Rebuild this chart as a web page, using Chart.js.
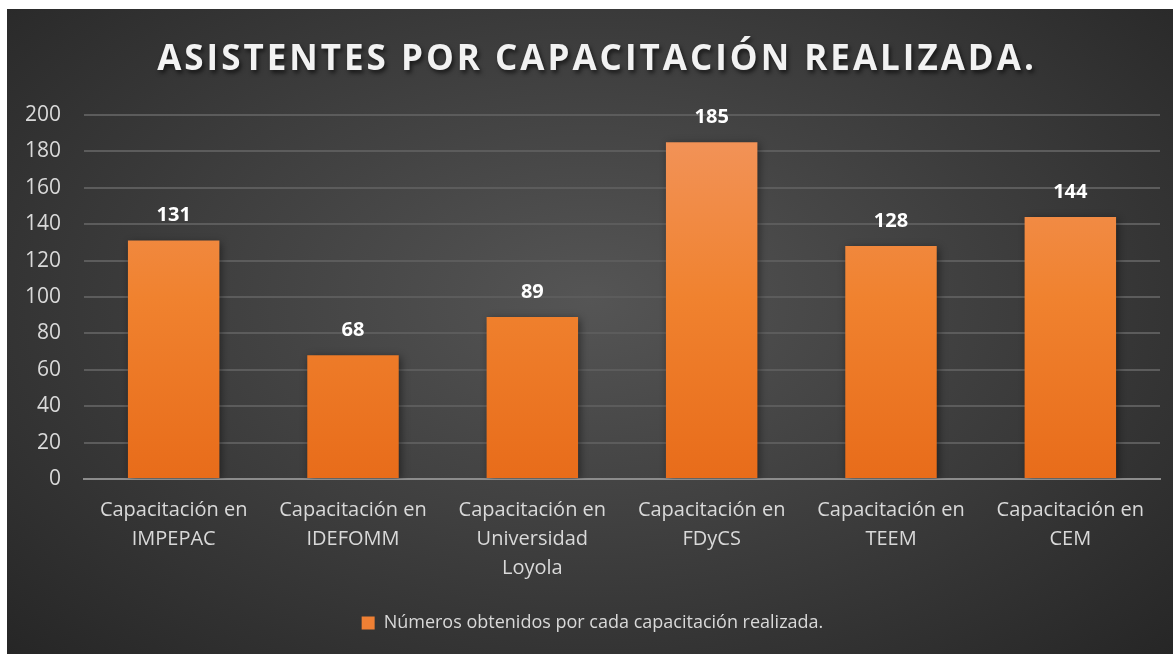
<!DOCTYPE html>
<html>
<head>
<meta charset="utf-8">
<script src="https://cdn.jsdelivr.net/npm/chart.js@4"></script>
<style>
    html, body { margin: 0; padding: 0; background: #ffffff; }
    #panel {
        position: absolute; left: 7px; top: 9px; width: 1166px; height: 645px;
        background: radial-gradient(ellipse at 50% 45%, #555555 0%, #404040 45%, #262626 100%);
    }
</style>
</head>
<body>
<div id="panel"><canvas id="myChart"></canvas></div>
<script>
const categories = [
    ['Capacitación en', 'IMPEPAC'],
    ['Capacitación en', 'IDEFOMM'],
    ['Capacitación en', 'Universidad', 'Loyola'],
    ['Capacitación en', 'FDyCS'],
    ['Capacitación en', 'TEEM'],
    ['Capacitación en', 'CEM']
];
const asistentes = [131, 68, 89, 185, 128, 144];
const seriesName = 'Números obtenidos por cada capacitación realizada.';
const chartTitle = 'ASISTENTES POR CAPACITACIÓN REALIZADA.';

const FONT = "'Open Sans', sans-serif";

function barGradient(context) {
    const chart = context.chart;
    const area = chart.chartArea;
    if (!area) return '#ee7d32';
    const g = chart.ctx.createLinearGradient(0, area.top, 0, area.bottom);
    g.addColorStop(0, '#f2955e');
    g.addColorStop(0.5, '#f0822f');
    g.addColorStop(1, '#e86c1a');
    return g;
}

// title with letter spacing and shadow, values over the bars
const decorations = {
    id: 'decorations',
    beforeDatasetsDraw(chart) {
        const ctx = chart.ctx;
        ctx.save();
        ctx.shadowColor = 'rgba(0,0,0,0.45)';
        ctx.shadowBlur = 8;
        ctx.shadowOffsetX = 2;
        ctx.shadowOffsetY = 2;
    },
    afterDatasetsDraw(chart) {
        const ctx = chart.ctx;
        ctx.restore();
        const meta = chart.getDatasetMeta(0);
        ctx.save();
        ctx.fillStyle = '#ffffff';
        ctx.font = "bold 20px " + FONT;
        ctx.textAlign = 'center';
        ctx.textBaseline = 'middle';
        meta.data.forEach((bar, i) => {
            ctx.fillText(asistentes[i], bar.x, bar.y - 25);
        });
        ctx.restore();
    },
    afterDraw(chart) {
        const ctx = chart.ctx;
        ctx.save();
        ctx.font = "bold 35px " + FONT;
        ctx.letterSpacing = '3px';
        ctx.fillStyle = '#f2f2f2';
        ctx.textAlign = 'center';
        ctx.textBaseline = 'middle';
        ctx.shadowColor = 'rgba(0,0,0,0.6)';
        ctx.shadowBlur = 4;
        ctx.shadowOffsetX = 2;
        ctx.shadowOffsetY = 3;
        ctx.fillText(chartTitle, 590, 51);
        ctx.restore();
    }
};

new Chart(document.getElementById('myChart'), {
    type: 'bar',
    data: {
        labels: categories,
        datasets: [{
            label: seriesName,
            data: asistentes,
            backgroundColor: barGradient,
            borderWidth: 0,
            categoryPercentage: 0.51,
            barPercentage: 1
        }]
    },
    options: {
        responsive: true,
        maintainAspectRatio: false,
        animation: false,
        layout: { padding: { top: 106, right: 13, left: 18, bottom: 12 } },
        plugins: {
            title: { display: false },
            tooltip: { enabled: false },
            legend: {
                position: 'bottom',
                labels: {
                    color: '#d9d9d9',
                    font: { family: FONT, size: 18 },
                    boxWidth: 13,
                    boxHeight: 13,
                    padding: 10,
                    generateLabels: () => [{
                        text: seriesName, fillStyle: '#ef8034', strokeStyle: '#ef8034',
                        lineWidth: 0, fontColor: '#d9d9d9'
                    }]
                }
            }
        },
        scales: {
            x: {
                grid: { display: false },
                border: { color: '#8c8c8c', width: 2 },
                ticks: {
                    color: '#d9d9d9',
                    font: { family: FONT, size: 20, lineHeight: 1.45 },
                    maxRotation: 0,
                    padding: 9
                },
                afterFit(scale) {
                    scale.height += 12;
                    scale.paddingLeft = 0;
                    scale.paddingRight = 0;
                }
            },
            y: {
                min: 0,
                max: 200,
                ticks: {
                    stepSize: 20,
                    color: '#d9d9d9',
                    font: { family: FONT, size: 21 },
                    padding: 23
                },
                grid: { color: '#5c5c5c', lineWidth: 2, drawTicks: false },
                border: { display: false },
                afterFit(scale) { scale.width = 59; }
            }
        }
    },
    plugins: [decorations]
});
</script>
</body>
</html>
